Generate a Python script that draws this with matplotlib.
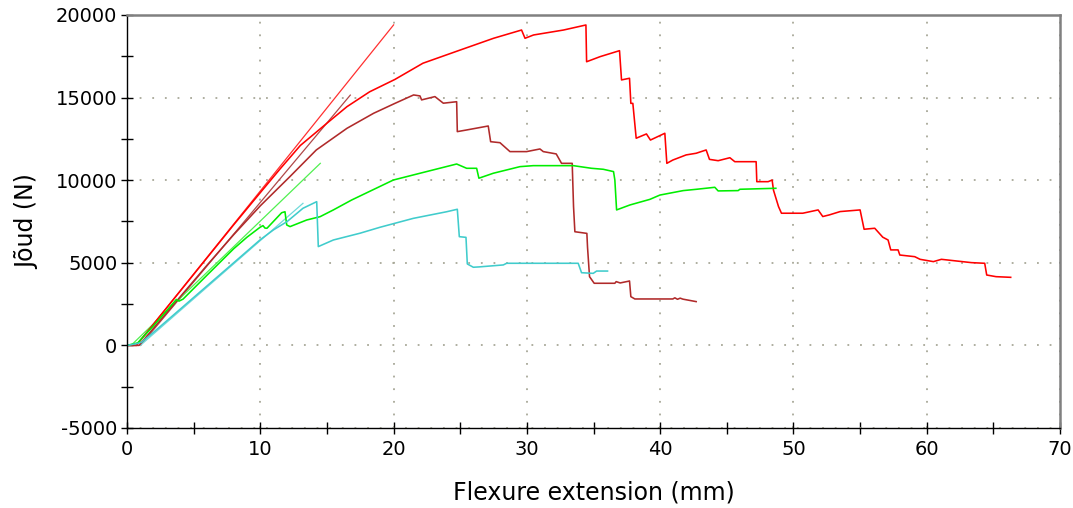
import matplotlib
matplotlib.use("Agg")
import matplotlib.pyplot as plt
from matplotlib.ticker import MultipleLocator

plt.rcParams["axes.unicode_minus"] = False

# ---- data ----
red_x = [0, 0.7, 1.0, 2, 4, 6, 8, 10, 11.5, 13, 15, 16.5, 18.2, 20.1, 22.2, 25.0, 27.5,
         29.6, 29.86, 30.5, 32.75, 34.43, 34.48, 35.5, 36.95, 37.1, 37.7, 37.8, 37.95,
         38.2, 38.97, 39.27, 40.35, 40.5, 40.95, 41.95, 42.7, 43.45, 43.7, 44.35, 45.23,
         45.6, 47.2, 47.25, 48.1, 48.4, 48.5, 48.88, 49.1, 50.7, 51.85, 52.2, 52.7, 53.5,
         55.0, 55.3, 56.1, 56.7, 57.1, 57.3, 57.85, 57.98, 59.1, 59.5, 60.5, 61.1, 63.35,
         64.35, 64.5, 65.2, 66.3]
red_y = [0, 0, 300, 1300, 3300, 5300, 7300, 9250, 10700, 12100, 13450, 14450, 15350,
         16100, 17080, 17880, 18590, 19090, 18590, 18790, 19090, 19395, 17170, 17480,
         17840, 16070, 16170, 14650, 14650, 12540, 12800, 12430, 12840, 11020, 11220,
         11530, 11630, 11830, 11260, 11180, 11360, 11120, 11120, 9910, 9910, 10010, 9400,
         8400, 8000, 8000, 8200, 7800, 7900, 8100, 8200, 7030, 7090, 6550, 6380, 5780,
         5780, 5470, 5370, 5210, 5070, 5210, 5010, 4970, 4260, 4160, 4120]

dred_x = [0, 0.9, 2, 4, 6, 8, 10, 12.2, 14.2, 16.5, 18.5, 20.1, 21.5, 21.98, 22.1, 23.1,
          23.73, 24.73, 24.78, 25.48, 27.1, 27.28, 27.98, 28.73, 29.98, 30.98, 31.23,
          32.2, 32.6, 33.4, 33.5, 33.6, 34.5, 34.55, 34.7, 35.05, 36.6, 36.7, 37.0, 37.6,
          37.7, 37.8, 38.1, 40.95, 41.1, 41.3, 41.5, 41.7, 42.7]
dred_y = [0, 0, 1050, 2950, 4850, 6700, 8450, 10200, 11830, 13140, 14050, 14650, 15160,
          15100, 14860, 15060, 14660, 14750, 12940, 13040, 13280, 12330, 12270, 11730,
          11730, 11890, 11730, 11590, 11020, 11020, 8400, 6880, 6780, 5940, 4160, 3760,
          3760, 3860, 3780, 3880, 3900, 2950, 2810, 2810, 2880, 2790, 2860, 2800, 2650]

green_x = [0, 0.8, 1.0, 2, 3.7, 3.9, 4.2, 6, 8, 9.0, 9.98, 10.2, 10.35, 10.5, 11.6, 11.85,
           11.98, 12.23, 13.48, 14.48, 15.48, 16.85, 19.98, 21.98, 24.73, 25.48, 26.23,
           26.4, 27.48, 29.48, 30.48, 33.48, 34.85, 35.73, 36.5, 36.6, 36.73, 37.73,
           39.23, 39.98, 41.73, 42.73, 44.1, 44.35, 45.85, 45.98, 48.68]
green_y = [0, 150, 330, 1200, 2780, 2680, 2800, 4250, 5850, 6550, 7150, 7250, 7100, 7090,
           8030, 8090, 7290, 7190, 7590, 7790, 8200, 8800, 10010, 10420, 10980, 10720,
           10720, 10120, 10420, 10820, 10880, 10880, 10720, 10660, 10520, 10010, 8200,
           8500, 8840, 9100, 9370, 9450, 9570, 9350, 9370, 9450, 9510]

cyan_x = [0, 0.8, 1.1, 2, 4, 6, 8, 10, 11, 12, 13.2, 14.23, 14.35, 15.48, 17.48, 18.98,
          21.48, 23.98, 24.78, 24.93, 25.43, 25.53, 25.98, 26.4, 28.23, 28.48, 33.85,
          34.1, 34.98, 35.23, 36.05]
cyan_y = [0, 120, 200, 800, 2200, 3600, 5000, 6400, 7000, 7490, 8300, 8700, 5980, 6380,
          6790, 7150, 7690, 8090, 8240, 6580, 6540, 4930, 4730, 4750, 4870, 4970, 4970,
          4400, 4360, 4500, 4500]

# straight reference (modulus) lines: (x0, y0) -> (x1, y1)
red_fit_x, red_fit_y = [0.7, 20.0], [0, 19400]
dred_fit_x, dred_fit_y = [1.0, 16.75], [0, 15150]
green_fit_x, green_fit_y = [0.3, 14.5], [0, 11020]
cyan_fit_x, cyan_fit_y = [1.0, 13.2], [0, 8600]

x_ticks = [0, 10, 20, 30, 40, 50, 60, 70]
y_ticks = [-5000, 0, 5000, 10000, 15000, 20000]

# ---- plot ----
fig = plt.figure(figsize=(10.73, 5.08), dpi=100)
ax = fig.add_axes([0.1184, 0.1575, 0.8695, 0.813])

c_red, c_dred, c_green, c_cyan = "#ff0000", "#b02a2a", "#00ee00", "#40cccc"

ax.plot(red_fit_x, red_fit_y, color="#ff3030", lw=0.9)
ax.plot(dred_fit_x, dred_fit_y, color="#b04848", lw=0.9)
ax.plot(green_fit_x, green_fit_y, color="#50f050", lw=0.9)
ax.plot(cyan_fit_x, cyan_fit_y, color="#70dada", lw=0.9)

ax.plot(red_x, red_y, color=c_red, lw=1.15)
ax.plot(dred_x, dred_y, color=c_dred, lw=1.15)
ax.plot(green_x, green_y, color=c_green, lw=1.15)
ax.plot(cyan_x, cyan_y, color=c_cyan, lw=1.15)

ax.set_xlim(0, 70)
ax.set_ylim(-5000, 20000)
ax.set_xticks(x_ticks)
ax.set_yticks(y_ticks)
ax.xaxis.set_minor_locator(MultipleLocator(5))
ax.yaxis.set_minor_locator(MultipleLocator(2500))

ax.tick_params(axis="both", which="both", direction="inout", length=8, width=1,
               labelsize=14, colors="black")
ax.tick_params(axis="x", pad=5)
ax.tick_params(axis="y", pad=3)

ax.grid(True, which="major", color="#a8a898", lw=1.3, ls=(0, (1.0, 6.0)))
ax.set_axisbelow(True)

for s in ("top", "right"):
    ax.spines[s].set_color("#808080")
    ax.spines[s].set_linewidth(1.8)
for s in ("left", "bottom"):
    ax.spines[s].set_color("black")
    ax.spines[s].set_linewidth(1.0)

ax.set_xlabel("Flexure extension (mm)", fontsize=17, labelpad=15)
ax.set_ylabel("Jõud (N)", fontsize=17, labelpad=12)

fig.savefig("out.png", dpi=100)
